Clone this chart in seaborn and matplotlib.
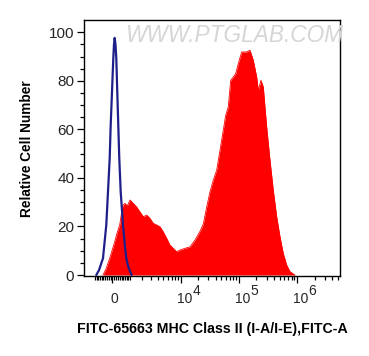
import numpy as np
import pandas as pd
import matplotlib
matplotlib.use("Agg")
import matplotlib.pyplot as plt
import seaborn as sns
from matplotlib.ticker import FixedLocator, NullFormatter

# ---- data (fluorescence intensity, relative cell number) ----
ctrl_x = [-930, -759, -522, -336, -243, -151, -97, -27, 43, 80, 118, 161, 205, 259,
          314, 369, 448, 580, 698, 778, 904, 1118]
ctrl_y = [0, 2.0, 6.9, 20.6, 34.3, 48, 61.7, 75.4, 89.2, 95.0, 97.7, 95.0, 89.2, 75.4,
          61.7, 48, 34.3, 20.6, 11.6, 6.9, 3.4, 0]

stain_x = [-522, -353, -151, -27, 118, 243, 392, 505, 580, 698, 840, 1016, 1247, 1495,
           1785, 2103, 2452, 2840, 3265, 3777, 4331, 4958, 5704, 6516, 7436, 8521, 9725,
           11864, 14473, 17653, 21513, 24516, 28036, 31950, 36394, 41640, 47429, 54034,
           59415, 65844, 72380, 80208, 88172, 97726, 111750, 136170, 155060, 176670,
           202080, 215260, 239460, 262290, 299930, 341790, 389350, 445340, 507310,
           577980, 660880, 752890, 917330]
stain_y = [0, 2.5, 6.9, 10, 13.7, 17.2, 20.6, 26, 28.8, 29.5, 28.5, 30.9, 29.5, 28.1,
           26, 24, 24.7, 23.3, 21.3, 20.6, 19.9, 17.8, 15.1, 12.3, 11, 9.6, 10.3,
           11, 11.6, 14.4, 18, 21, 28, 34.3, 39.1, 43.2, 51.4, 59.7,
           65.8, 69.3, 80.2, 81.6, 83, 87.1, 91.9, 91.9, 92.6, 88.5,
           81.6, 76.1, 80.2, 77.5, 61, 47.3, 35, 24, 15.8,
           8.9, 4.1, 1.4, 0]

x_major = [0, 1e4, 1e5, 1e6]
x_decade_exp = ["4", "5", "6"]
y_major = [0, 20, 40, 60, 80, 100]

# ---- style ----
sns.set_style("ticks")
plt.rcParams["font.family"] = ["Liberation Sans", "DejaVu Sans"]

fig = plt.figure(figsize=(3.69, 3.56), dpi=100)
ax = fig.add_axes([84 / 369, 1 - 276 / 356, 256 / 369, 256 / 356])

W = 1359.0
def fwd(x):
    return np.arcsinh(np.asarray(x, dtype=float) / W) / np.log(10)
def inv(y):
    return W * np.sinh(np.asarray(y, dtype=float) * np.log(10))

ax.set_xscale("function", functions=(fwd, inv))

stain = pd.DataFrame({"x": stain_x, "y": stain_y})
ctrl = pd.DataFrame({"x": ctrl_x, "y": ctrl_y})

ax.fill_between(stain["x"], stain["y"], 0, color="#ff0000", lw=0, zorder=2)
sns.lineplot(data=stain, x="x", y="y", color="#ff0000", lw=0.6, ax=ax, zorder=2,
             estimator=None)
sns.lineplot(data=ctrl, x="x", y="y", color="#1f1f8a", lw=1.6, ax=ax, zorder=3,
             estimator=None)

ax.set_xlim(-1873, 5.43e6)
ax.set_ylim(-0.41, 105.07)

# ticks
x_minor = (list(range(-1000, 0, 100)) + list(range(100, 1001, 100)) +
           list(range(2000, 10000, 1000)) + list(range(20000, 100000, 10000)) +
           list(range(200000, 1000000, 100000)) + [2e6, 3e6, 4e6, 5e6])
ax.xaxis.set_major_locator(FixedLocator(x_major))
ax.xaxis.set_major_formatter(NullFormatter())
ax.xaxis.set_minor_locator(FixedLocator(x_minor))
ax.yaxis.set_major_locator(FixedLocator(y_major))
ax.yaxis.set_minor_locator(FixedLocator([v for v in range(0, 105, 5) if v % 20]))

ax.tick_params(axis="both", which="major", length=5, width=0.9, direction="out",
               labelsize=11, labelcolor="#262626", color="black")
ax.tick_params(axis="both", which="minor", length=3, width=0.9, direction="out",
               color="black")
ax.tick_params(axis="y", which="major", pad=2)

# x tick labels: "0" and 10 with full-size exponent
lab_kw = dict(xycoords=("data", "axes fraction"), textcoords="offset points",
              fontsize=10, color="#262626", va="baseline", annotation_clip=False)
ax.annotate("0", xy=(x_major[0], 0), xytext=(1.1, -19.2), ha="center", **lab_kw)
for xv, e in zip(x_major[1:], x_decade_exp):
    ax.annotate("10", xy=(xv, 0), xytext=(-2.7, -19.6), ha="left", **lab_kw)
    ax.annotate(e, xy=(xv, 0), xytext=(8.3, -14.0), ha="left", **lab_kw)

for s in ax.spines.values():
    s.set_visible(True)
    s.set_color("black")
    s.set_linewidth(1.0)

ax.set_xlabel("")
ax.set_ylabel("")
fig.text(27 / 369, 1 - 149 / 356, "Relative Cell Number", rotation=90, ha="center",
         va="center", fontsize=9.8, fontweight="bold", color="black")
fig.text(212 / 369, 1 - 329 / 356, "FITC-65663 MHC Class II (I-A/I-E),FITC-A",
         ha="center", va="center", fontsize=10.2, fontweight="bold", color="black")

# watermark
fig.text(234 / 369, 1 - 35 / 356, "WWW.PTGLAB.COM", ha="center", va="center",
         fontsize=16.3, fontstyle="italic", color="#d6d6d6", zorder=5)

fig.savefig("out.png", dpi=100)
